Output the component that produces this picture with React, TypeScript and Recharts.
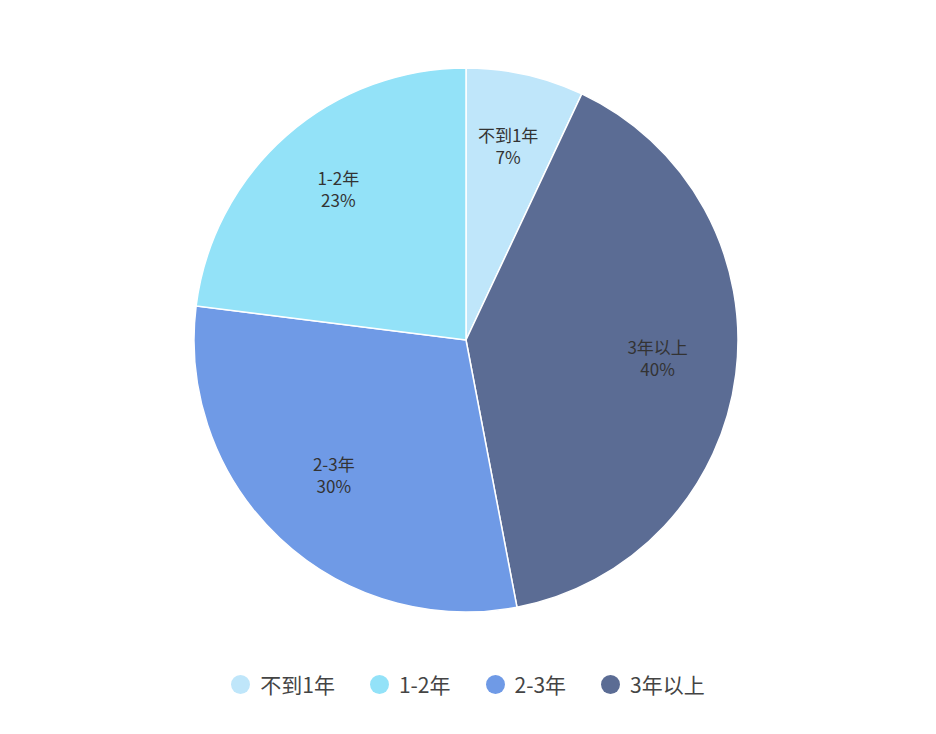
import { Cell, Legend, Pie, PieChart } from "recharts";

// clockwise from 12 o'clock, as drawn
const sliceNames = ["不到1年", "3年以上", "2-3年", "1-2年"];
const sliceValues = [7, 40, 30, 23];
const sliceColors = ["#bfe6fa", "#5b6c94", "#6f9ae6", "#93e2f8"];

// legend order
const legendNames = ["不到1年", "1-2年", "2-3年", "3年以上"];
const legendColors = ["#bfe6fa", "#93e2f8", "#6f9ae6", "#5b6c94"];

const data = sliceNames.map((name, i) => ({ name, value: sliceValues[i] }));

const RAD = Math.PI / 180;
const FONT = '"Noto Sans CJK SC", "Noto Sans", sans-serif';

function SliceLabel(props: any) {
  const { cx, cy, midAngle, outerRadius, name, value } = props;
  const r = outerRadius * 0.71;
  const x = cx + r * Math.cos(-midAngle * RAD);
  const y = cy + r * Math.sin(-midAngle * RAD);
  return (
    <text x={x} y={y} textAnchor="middle" fill="#333" fontSize={17} fontFamily={FONT}>
      <tspan x={x} dy={-10}>{name}</tspan>
      <tspan x={x} dy={22}>{value}%</tspan>
    </text>
  );
}

function LegendRow() {
  return (
    <div
      style={{
        display: "flex",
        justifyContent: "center",
        gap: 35,
        fontFamily: FONT,
        fontSize: 21,
        color: "#444",
      }}
    >
      {legendNames.map((n, i) => (
        <div key={n} style={{ display: "flex", alignItems: "center", gap: 10 }}>
          <span
            style={{
              width: 19,
              height: 19,
              borderRadius: "50%",
              background: legendColors[i],
              display: "inline-block",
            }}
          />
          <span>{n}</span>
        </div>
      ))}
    </div>
  );
}

export default function App() {
  return (
    <div style={{ position: "absolute", left: 0, top: 0, background: "#fff" }}>
      <PieChart width={936} height={734} margin={{ top: 0, right: 0, bottom: 0, left: 0 }}>
        <Pie
          data={data}
          dataKey="value"
          nameKey="name"
          cx={466}
          cy={340}
          outerRadius={272}
          startAngle={90}
          endAngle={-270}
          stroke="#fff"
          strokeWidth={1.5}
          label={SliceLabel}
          labelLine={false}
          isAnimationActive={false}
        >
          {data.map((d, i) => (
            <Cell key={d.name} fill={sliceColors[i]} />
          ))}
        </Pie>
        <Legend
          content={() => <LegendRow />}
          verticalAlign="bottom"
          wrapperStyle={{ bottom: 35, left: 0, width: 936 }}
        />
      </PieChart>
    </div>
  );
}
